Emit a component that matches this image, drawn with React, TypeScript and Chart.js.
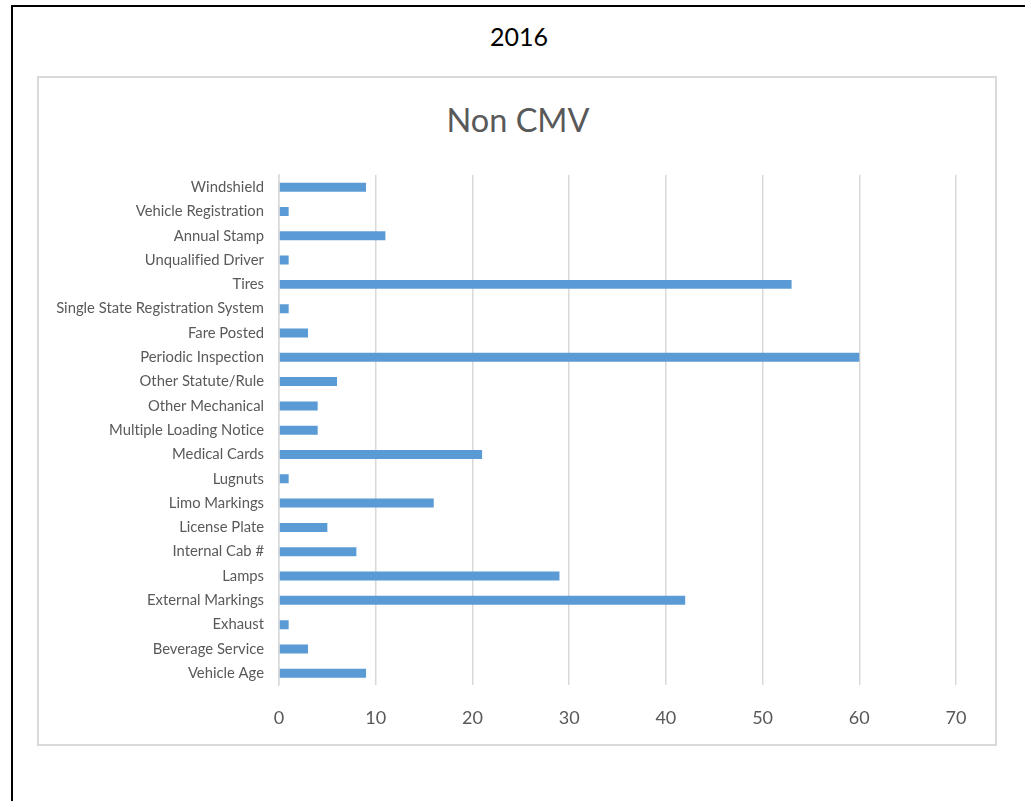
import React, { useEffect, useRef } from "react";
import { Chart, registerables } from "chart.js";

Chart.register(...registerables);

const CHART_HEADING = "2016";
const CHART_TITLE = "Non CMV";

const categories: string[] = [
  "Windshield",
  "Vehicle Registration",
  "Annual Stamp",
  "Unqualified Driver",
  "Tires",
  "Single State Registration System",
  "Fare Posted",
  "Periodic Inspection",
  "Other Statute/Rule",
  "Other Mechanical",
  "Multiple Loading Notice",
  "Medical Cards",
  "Lugnuts",
  "Limo Markings",
  "License Plate",
  "Internal Cab #",
  "Lamps",
  "External Markings",
  "Exhaust",
  "Beverage Service",
  "Vehicle Age",
];

const violationCounts: number[] = [
  9, 1, 11, 1, 53, 1, 3, 60, 6, 4, 4, 21, 1, 16, 5, 8, 29, 42, 1, 3, 9,
];

const xTickMin = 0;
const xTickMax = 70;
const xTickStep = 10;

const FONT = "Lato, 'Open Sans', sans-serif";
const TEXT_GREY = "#595959";
const GRID_GREY = "#d9d9d9";
const BAR_BLUE = "#5b9bd5";

const noLigatures = {
  id: "noLigatures",
  beforeInit(chart: any) {
    try {
      (chart.ctx as any).textRendering = "optimizeSpeed";
    } catch (e) {}
  },
  beforeDraw(chart: any) {
    try {
      (chart.ctx as any).textRendering = "optimizeSpeed";
    } catch (e) {}
  },
};

export default function App() {
  const canvasRef = useRef<HTMLCanvasElement | null>(null);

  useEffect(() => {
    const canvas = canvasRef.current;
    if (!canvas) return;
    const chart = new Chart(canvas, {
      type: "bar",
      data: {
        labels: categories,
        datasets: [
          {
            data: violationCounts,
            backgroundColor: BAR_BLUE,
            borderWidth: 0,
            categoryPercentage: 1,
            barPercentage: 0.37,
          },
        ],
      },
      plugins: [noLigatures],
      options: {
        indexAxis: "y",
        animation: false,
        responsive: false,
        maintainAspectRatio: false,
        layout: {
          padding: { top: 175, left: 0, right: 69, bottom: 50 },
        },
        plugins: {
          legend: { display: false },
          tooltip: { enabled: false },
          title: { display: false },
        },
        scales: {
          x: {
            type: "linear",
            min: xTickMin,
            max: xTickMax,
            ticks: {
              stepSize: xTickStep,
              color: TEXT_GREY,
              font: { family: FONT, size: 18 },
              padding: 22,
            },
            grid: {
              display: true,
              color: GRID_GREY,
              lineWidth: 1.5,
              drawTicks: false,
            },
            border: { display: false },
          },
          y: {
            type: "category",
            ticks: {
              color: TEXT_GREY,
              font: { family: FONT, size: 14.8 },
              padding: 15,
              autoSkip: false,
            },
            grid: { display: false, drawTicks: false },
            border: { display: true, color: GRID_GREY, width: 1.5 },
            afterFit: (axis: any) => {
              axis.width = 279;
            },
          },
        },
      },
    });
    return () => chart.destroy();
  }, []);

  return (
    <div
      style={{
        position: "absolute",
        left: 0,
        top: 0,
        width: 1025,
        height: 801,
        overflow: "hidden",
        background: "#ffffff",
      }}
    >
      <div
        style={{
          position: "absolute",
          left: 11,
          top: 5,
          width: 1100,
          height: 900,
          borderTop: "2px solid #000",
          borderLeft: "2px solid #000",
        }}
      />
      <div
        style={{
          position: "absolute",
          left: 37,
          top: 76,
          width: 960,
          height: 670,
          boxSizing: "border-box",
          border: `2px solid ${GRID_GREY}`,
        }}
      />
      <div
        style={{
          position: "absolute",
          left: 37,
          top: 21,
          width: 964,
          textAlign: "center",
          fontFamily: FONT,
          fontSize: 25,
          lineHeight: "30px",
          color: "#000000",
          whiteSpace: "nowrap",
        }}
      >
        {CHART_HEADING}
      </div>
      <div
        style={{
          position: "absolute",
          left: 37,
          top: 100,
          width: 962,
          textAlign: "center",
          fontFamily: FONT,
          fontSize: 32.5,
          lineHeight: "39px",
          color: TEXT_GREY,
          whiteSpace: "nowrap",
        }}
      >
        {CHART_TITLE}
      </div>
      <canvas
        ref={canvasRef}
        width={1025}
        height={801}
        style={{ position: "absolute", left: 0, top: 0, width: 1025, height: 801 }}
      />
    </div>
  );
}
